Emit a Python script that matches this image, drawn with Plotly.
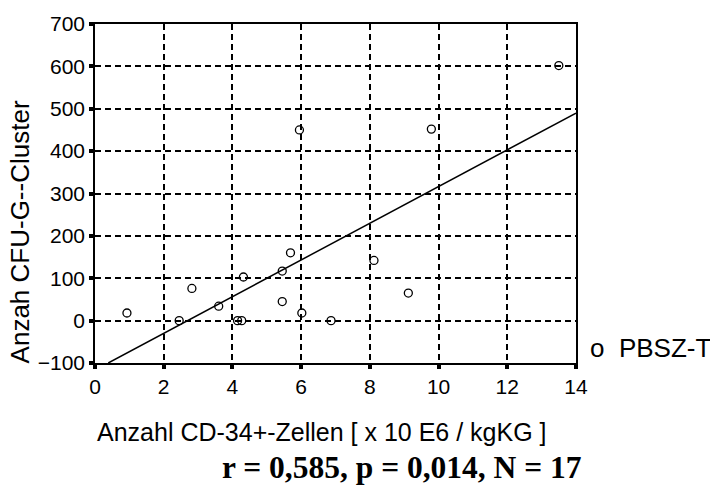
import numpy as np
import plotly.graph_objects as go

# CD-34+ cell dose (x 10E6 / kg body weight) and CFU-G cluster counts
cd34_cells = [0.93, 2.45, 2.82, 3.60, 4.15, 4.27, 4.32, 5.45, 5.45, 5.69,
              6.02, 6.87, 5.95, 8.12, 9.12, 9.79, 13.50]
cfu_g_cluster = [18, 0, 76, 34, 0, 0, 103, 117, 45, 160,
                 18, 0, 450, 142, 65, 452, 602]

x_ticks = [0, 2, 4, 6, 8, 10, 12, 14]
y_ticks = [-100, 0, 100, 200, 300, 400, 500, 600, 700]

series_name = "PBSZ-T"
x_title = "Anzahl CD-34+-Zellen [ x 10 E6 / kgKG ]"
y_title = "Anzah CFU-G--Cluster"
stats_text = "r = 0,585, p = 0,014, N = 17"

x_min, x_max = x_ticks[0], x_ticks[-1]
y_min, y_max = y_ticks[0], y_ticks[-1]

# least-squares regression line, clipped to the visible y range
slope, intercept = np.polyfit(cd34_cells, cfu_g_cluster, 1)
x_start = max(x_min, (y_min - intercept) / slope)
fit_x = [x_start, x_max]
fit_y = [intercept + slope * v for v in fit_x]

fig = go.Figure()
fig.add_trace(go.Scatter(
    x=fit_x, y=fit_y, mode="lines",
    line=dict(color="black", width=1.5),
    showlegend=False, hoverinfo="skip",
))
fig.add_trace(go.Scatter(
    x=cd34_cells, y=cfu_g_cluster, mode="markers", name=series_name,
    marker=dict(symbol="circle-open", size=8, color="black",
                line=dict(color="black", width=1.3)),
    showlegend=False,
))

axis_common = dict(
    showline=True, linecolor="black", linewidth=1.5, mirror=True,
    showgrid=True, gridcolor="black", gridwidth=1.6, griddash="6px,4px",
    zeroline=False, ticks="outside", ticklen=4, tickwidth=4, tickcolor="black",
    tickfont=dict(family="Liberation Sans", size=21, color="black"),
)

fig.update_layout(
    width=710, height=485,
    margin=dict(l=95, r=134, t=22, b=122),
    paper_bgcolor="white", plot_bgcolor="white",
    font=dict(family="Liberation Sans", color="black"),
    xaxis=dict(range=[x_min, x_max], tickvals=x_ticks, **axis_common),
    yaxis=dict(range=[y_min, y_max], tickvals=y_ticks, **axis_common),
    annotations=[
        # series key to the right of the plot frame
        dict(text="o\u00a0\u00a0" + series_name, xref="paper", yref="paper",
             x=1.0, y=0.044, xshift=12,
             xanchor="left", yanchor="middle", showarrow=False,
             font=dict(family="Liberation Sans", size=26, color="black")),
        dict(text=x_title, xref="paper", yref="paper", x=0.472, y=-0.205,
             xanchor="center", yanchor="middle", showarrow=False,
             font=dict(family="Liberation Sans", size=25, color="black")),
        dict(text=y_title, xref="paper", yref="paper", x=-0.154, y=0.388,
             xanchor="center", yanchor="middle", textangle=-90, showarrow=False,
             font=dict(family="Liberation Sans", size=26, color="black")),
        dict(text="<b>" + stats_text + "</b>", xref="paper", yref="paper",
             x=0.638, y=-0.308, xanchor="center", yanchor="middle",
             showarrow=False,
             font=dict(family="Liberation Serif", size=31.5, color="black")),
    ],
)

fig.write_html("out.html")
